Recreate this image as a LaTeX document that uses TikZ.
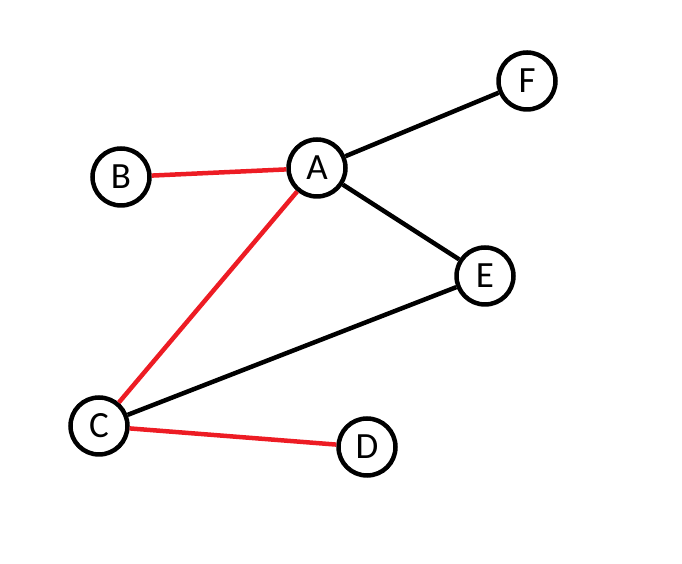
\documentclass[tikz,border=0pt]{standalone}
\usepackage{fontspec}
\setmainfont{Carlito}
\usetikzlibrary{positioning}
\definecolor{paintred}{RGB}{237,28,36}

\begin{document}
\begin{tikzpicture}[x=1pt, y=1pt, every node/.style={draw, circle, line width=4.5pt, minimum size=57pt, inner sep=0pt, font=\fontsize{37}{40}\selectfont}]
\useasboundingbox (0,0) rectangle (682,564);

% Vertices
\node (a) at (317, 396) {A};
\node (b) at (121, 387) {B};
\node (f) at (527, 483) {F};
\node (e) at (485, 288) {E};
\node (c) at (99, 138) {C};
\node (d) at (367, 117) {D};

% Black edges
\draw[line width=4.5pt] (a) -- (f);
\draw[line width=4.5pt] (a) -- (e);
\draw[line width=4.5pt] (c) -- (e);

% Red edges
\draw[line width=4.5pt, paintred] (b) -- (a);
\draw[line width=4.5pt, paintred] (a) -- (c);
\draw[line width=4.5pt, paintred] (c) -- (d);

\end{tikzpicture}
\end{document}
